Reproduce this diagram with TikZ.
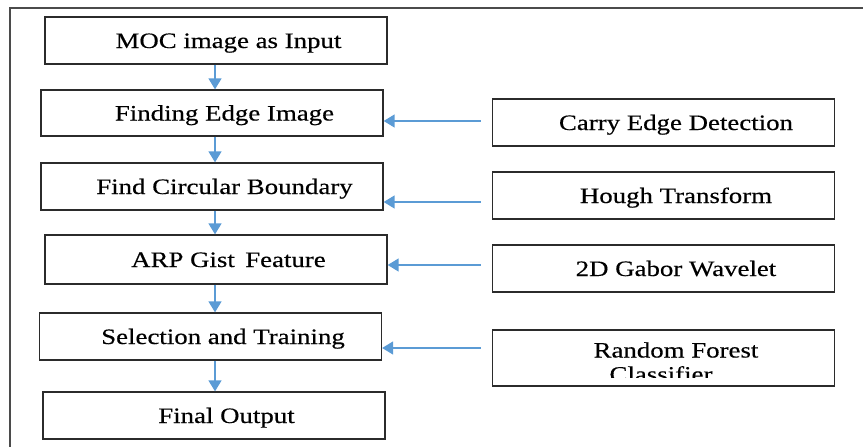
\documentclass[tikz,border=0pt]{standalone}
\usepackage{fontspec}
\setmainfont{Liberation Serif}[FakeStretch=1.22,FakeBold=0.4]
\usetikzlibrary{arrows.meta}
\definecolor{flowblue}{HTML}{5B9BD5}
\definecolor{boxline}{HTML}{2B2B2B}
\newcommand{\boxfont}{\fontsize{22}{24}\selectfont}
\tikzset{
  stage/.style={draw=boxline, line width=1.3pt, minimum width=342pt, minimum height=47pt,
    inner sep=0pt, font=\boxfont, text height=15pt, text depth=0pt,
    execute at begin node={\hspace*{25pt}}},
  tool/.style={stage},
  flow/.style={draw=flowblue, line width=1.4pt, -{Triangle[width=13pt,length=11pt]}},
}
\begin{document}
\begin{tikzpicture}[x=1pt,y=-1pt]
\useasboundingbox (0,0) rectangle (863,447);
% outer frame
\draw[draw=boxline!85, line width=1.7pt] (10,447) -- (10,8) -- (863,8);

% main pipeline
\node[stage, minimum height=47pt] (moc)  at (216,40.5) {MOC image as Input};
\node[stage, minimum height=46pt] (edge) at (212,113)  {Finding Edge Image};
\node[stage, minimum height=47pt] (circ) at (212,186.5){Find Circular Boundary};
\node[stage, minimum height=49pt] (arp)  at (216,259.5){ARP Gist\, Feature};
\node[stage, minimum height=47pt] (sel)  at (210.5,336.5){Selection and Training};
\node[stage, minimum height=47pt] (fin)  at (214,415.5){Final Output};

% side tools
\node[tool] (canny) at (663.5,122.5) {Carry Edge Detection};
\node[tool] (hough) at (663.5,195.5) {Hough Transform};
\node[tool] (gabor) at (663.5,268.5) {2D Gabor Wavelet};
\node[tool, minimum height=56pt] (rf) at (663.5,358) {};
\node[font=\boxfont] (rft) at (676,350) {Random Forest};
\begin{scope}
  \clip (rf.west |- 0,362) rectangle (rf.east |- 0,377);
  \node[font=\boxfont] (rfc) at (661,374) {Classifier};
\end{scope}

% downward flow
\coordinate (col) at (215,0);
\draw[flow] (moc.south -| col)  -- (edge.north -| col);
\draw[flow] (edge.south -| col) -- (circ.north -| col);
\draw[flow] (circ.south -| col) -- (arp.north -| col);
\draw[flow] (arp.south -| col)  -- (sel.north -| col);
\draw[flow] (sel.south -| col)  -- (fin.north -| col);

% inputs from the side tools
\draw[flow] ([xshift=-11pt]canny.west |- 0,121) -- (edge.east |- 0,121);
\draw[flow] ([xshift=-11pt]hough.west |- 0,202) -- (circ.east |- 0,202);
\draw[flow] ([xshift=-11pt]gabor.west |- 0,265) -- (arp.east |- 0,265);
\draw[flow] ([xshift=-11pt]rf.west |- 0,348)    -- (sel.east |- 0,348);
\end{tikzpicture}
\end{document}
